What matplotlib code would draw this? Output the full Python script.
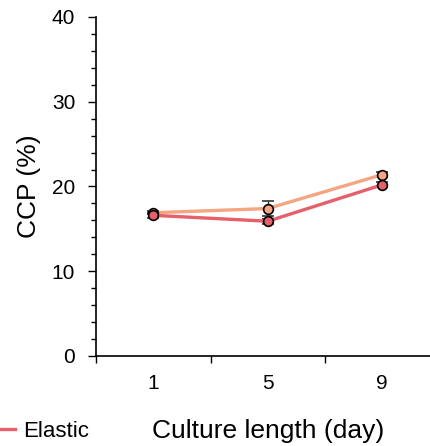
import matplotlib
matplotlib.use("Agg")
import matplotlib.pyplot as plt
from matplotlib.lines import Line2D
from matplotlib.ticker import MultipleLocator, FixedLocator

plt.rcParams['font.family'] = ['Liberation Sans', 'DejaVu Sans']

days = ["1", "5", "9"]
series_names = ["Stiff", "Elastic"]
stiff_vals = [16.9, 17.4, 21.4]
stiff_err = [0.2, 0.9, 0.3]
elastic_vals = [16.6, 15.9, 20.2]
elastic_err = [0.3, 0.3, 0.3]
colors = ["#F4A582", "#E5606A"]

fig = plt.figure(figsize=(4.30, 4.46), dpi=100)
ax = fig.add_axes([0.2233, 0.2018, 0.7767, 0.7601])

x = list(range(len(days)))
for vals, errs, c in [(stiff_vals, stiff_err, colors[0]), (elastic_vals, elastic_err, colors[1])]:
    ax.errorbar(x, vals, yerr=errs, color=c, lw=2.4, marker='o', ms=7,
                mfc=c, mec='black', mew=1.2, ecolor='#333333', elinewidth=1.0,
                capsize=4, capthick=1.0, zorder=3)

ax.set_xlim(-0.5, 2.417)
ax.set_ylim(0, 40)
ax.yaxis.set_major_locator(MultipleLocator(10))
ax.yaxis.set_minor_locator(MultipleLocator(2))
ax.set_xticks(x)
ax.set_xticklabels(days)
ax.xaxis.set_minor_locator(FixedLocator([-0.5, 0.5, 1.5]))
ax.tick_params(axis='x', which='major', length=0, pad=13, labelsize=15)
ax.tick_params(axis='x', which='minor', length=5, width=1.0)
ax.tick_params(axis='y', which='major', length=6, width=1.0, labelsize=15, pad=9)
ax.tick_params(axis='y', which='minor', length=3.5, width=1.0)
for s in ['top', 'right']:
    ax.spines[s].set_visible(False)
for s in ['left', 'bottom']:
    ax.spines[s].set_linewidth(1.2)

ax.set_ylabel("CCP (%)", fontsize=19, labelpad=8)
ax.set_xlabel("Culture length (day)", fontsize=19, labelpad=18.5)
ax.xaxis.label.set_x(0.515)

h = [Line2D([0], [0], color=colors[1], lw=2.4)]
fig.legend(h, [series_names[1]], loc='lower left', bbox_to_anchor=(-0.078, -0.035),
           frameon=False, fontsize=16, handlelength=1.3, handletextpad=0.35)

fig.savefig("out.png", dpi=100)
